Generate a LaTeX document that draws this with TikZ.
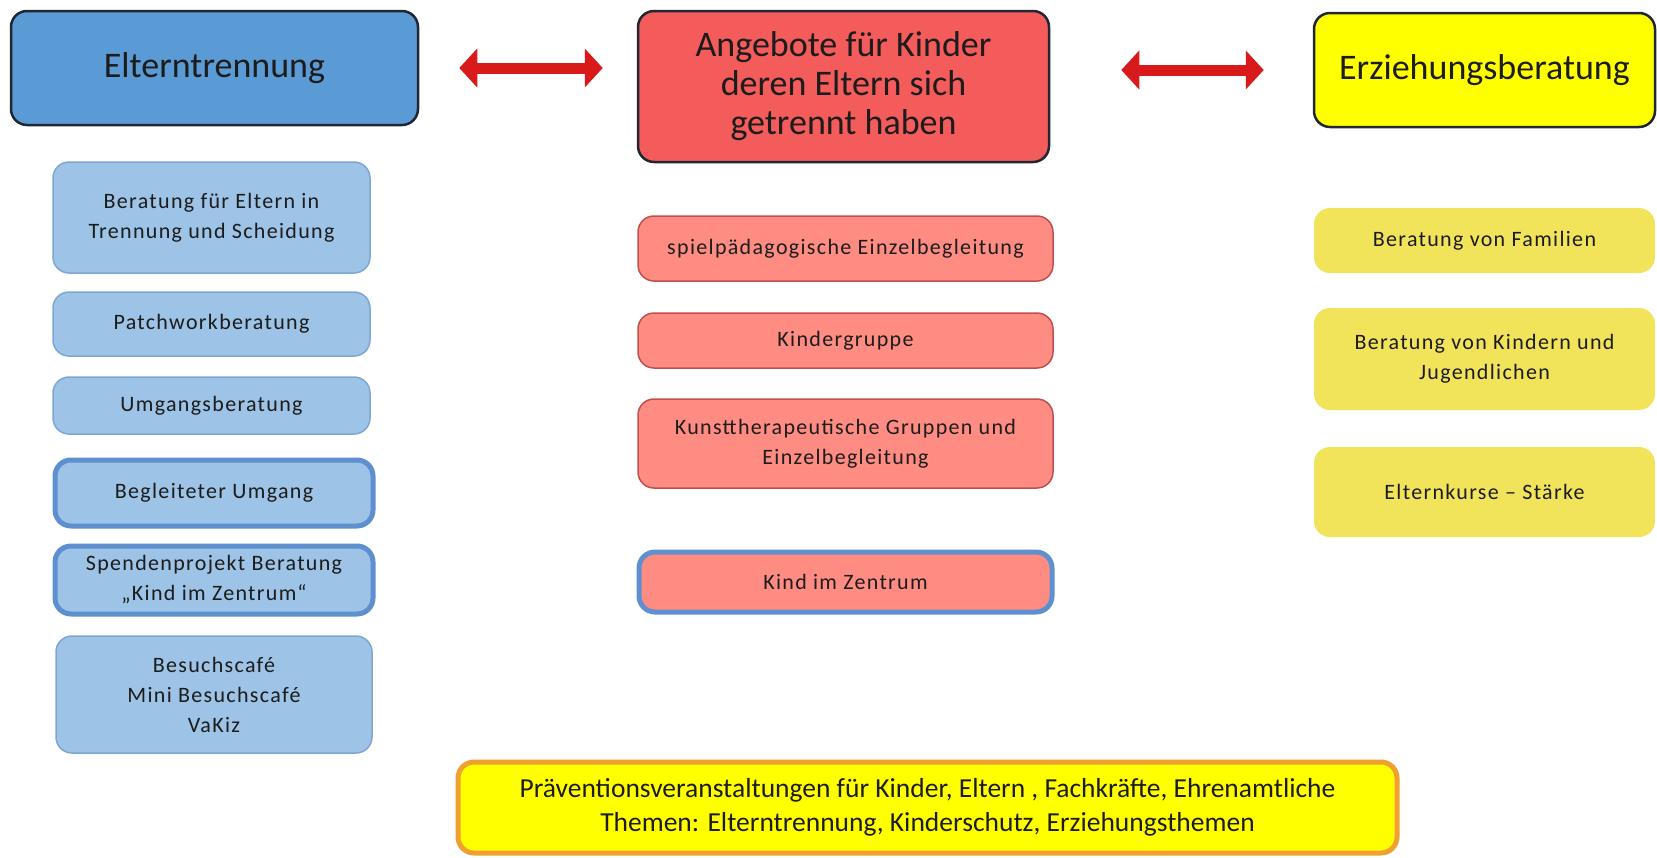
\documentclass[tikz,border=0pt]{standalone}
\usepackage{fontspec}
\setmainfont{Carlito}
\newfontfamily\boxfont[LetterSpace=6]{Carlito}
\usetikzlibrary{arrows.meta}
\definecolor{inktext}{HTML}{1C1C1C}
\definecolor{titleline}{HTML}{1E2733}
\definecolor{eltblue}{HTML}{5B9BD5}
\definecolor{subblue}{HTML}{9DC3E6}
\definecolor{subblueline}{HTML}{7EA6D3}
\definecolor{frameblue}{HTML}{5E8FCF}
\definecolor{angred}{HTML}{F45B5B}
\definecolor{subred}{HTML}{FF8C82}
\definecolor{subredline}{HTML}{C0504D}
\definecolor{erzyellow}{HTML}{FFFF00}
\definecolor{subyellow}{HTML}{F2E45A}
\definecolor{frameorange}{HTML}{F0A030}
\definecolor{arrowred}{HTML}{D91A1A}
\tikzset{
    every node/.style={rounded corners=16pt, align=center, inner sep=0pt,
    	text=inktext}
}
\tikzset{
    titlebox/.style={draw=titleline, line width=2.5pt,
    	font=\fontsize{36}{39}\selectfont}
}
\tikzset{
    subbox/.style={font={\fontsize{22}{30}\boxfont}}
}
\tikzset{
    twoway/.style={draw=arrowred, line width=11pt,
    	{Triangle[length=18pt,width=38pt]}-{Triangle[length=18pt,width=38pt]}}
}

\begin{document}
\begin{tikzpicture}[x=1pt,y=-1pt]
	\useasboundingbox (0,0) rectangle (1657,857);
	% Kopfzeile
	\node (elt) [titlebox, fill=eltblue, minimum width=407pt,
		minimum height=114pt] at (214.5,68) {Elterntrennung};
	\node (ang) [titlebox, fill=angred, minimum width=411pt,
		minimum height=151pt] at (843.5,86.5)
		{Angebote für Kinder\\deren Eltern sich\\getrennt haben};
	\node (erz) [titlebox, fill=erzyellow, minimum width=341pt,
		minimum height=114pt] at (1484.5,70) {Erziehungsberatung};
	
	\draw[twoway, shorten <=40pt, shorten >=34pt] (elt.east) -- (elt.east -| ang.west);
	\draw[twoway, shorten <=71pt, shorten >=49pt] (erz.west -| ang.east) -- (erz.west);
	
	% linke Spalte
	\node (bfe) [subbox, fill=subblue, draw=subblueline, line width=1.5pt,
		minimum width=317pt, minimum height=111pt] at (211.5,217.5)
		{Beratung für Eltern in\\Trennung und Scheidung};
	\node (pat) [subbox, fill=subblue, draw=subblueline, line width=1.5pt,
		minimum width=317pt, minimum height=64pt] at (211.5,324) {Patchworkberatung};
	\node (umg) [subbox, fill=subblue, draw=subblueline, line width=1.5pt,
		minimum width=317pt, minimum height=57pt] at (211.5,405.5) {Umgangsberatung};
	\node (beg) [subbox, fill=subblue, draw=frameblue, line width=5pt,
		minimum width=318pt, minimum height=66pt] at (214,493) {Begleiteter Umgang};
	\node (spe) [subbox, fill=subblue, draw=frameblue, line width=5pt,
		minimum width=318pt, minimum height=68pt] at (214,580)
		{Spendenprojekt Beratung\\„Kind im Zentrum“};
	\node (bes) [subbox, fill=subblue, draw=subblueline, line width=1.5pt,
		minimum width=316pt, minimum height=117pt] at (214,694.5)
		{Besuchscafé\\Mini Besuchscafé\\VaKiz};
	
	% mittlere Spalte
	\node (spi) [subbox, fill=subred, draw=subredline, line width=1.5pt,
		minimum width=415pt, minimum height=65pt] at (845.5,248.5)
		{spielpädagogische Einzelbegleitung};
	\node (kig) [subbox, fill=subred, draw=subredline, line width=1.5pt,
		minimum width=415pt, minimum height=55pt] at (845.5,340.5) {Kindergruppe};
	\node (kun) [subbox, fill=subred, draw=subredline, line width=1.5pt,
		minimum width=415pt, minimum height=89pt] at (845.5,443.5)
		{Kunsttherapeutische Gruppen und\\Einzelbegleitung};
	\node (kiz) [subbox, fill=subred, draw=frameblue, line width=5pt,
		minimum width=413pt, minimum height=60pt] at (845.5,582) {Kind im Zentrum};
	
	% rechte Spalte
	\node (fam) [subbox, fill=subyellow, minimum width=341pt,
		minimum height=65pt] at (1484.5,240.5) {Beratung von Familien};
	\node (kin) [subbox, fill=subyellow, minimum width=341pt,
		minimum height=102pt] at (1484.5,359)
		{Beratung von Kindern und\\Jugendlichen};
	\node (kur) [subbox, fill=subyellow, minimum width=341pt,
		minimum height=90pt] at (1484.5,492) {Elternkurse – Stärke};
	
	% Fußzeile
	\node (pra) [fill=erzyellow, draw=frameorange, line width=5pt,
		font=\fontsize{27.5}{34}\selectfont, minimum width=939pt,
		minimum height=91pt] at (927.5,807.5)
		{Präventionsveranstaltungen für Kinder, Eltern , Fachkräfte, Ehrenamtliche\\
		Themen: Elterntrennung, Kinderschutz, Erziehungsthemen};
\end{tikzpicture}
\end{document}
